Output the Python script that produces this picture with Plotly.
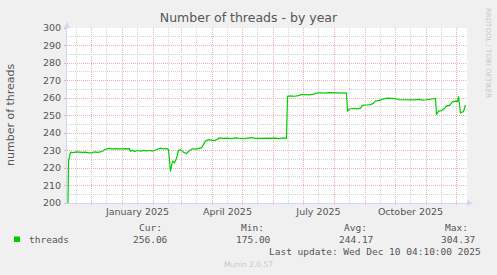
import plotly.graph_objects as go
import pandas as pd

# ---- data ----
dates = [
    "2024-11-07", "2024-11-08", "2024-11-10", "2024-11-13", "2024-11-16", "2024-11-19",
    "2024-11-22", "2024-11-25", "2024-11-28", "2024-12-01", "2024-12-04", "2024-12-07",
    "2024-12-10", "2024-12-12", "2024-12-14", "2024-12-16", "2024-12-19", "2024-12-22",
    "2024-12-25", "2024-12-28", "2024-12-31", "2025-01-03", "2025-01-06", "2025-01-08",
    "2025-01-09", "2025-01-11", "2025-01-13", "2025-01-16", "2025-01-19", "2025-01-22",
    "2025-01-25", "2025-01-28", "2025-01-31", "2025-02-03", "2025-02-05", "2025-02-08",
    "2025-02-11", "2025-02-14", "2025-02-16", "2025-02-18", "2025-02-20", "2025-02-22",
    "2025-02-24", "2025-02-26", "2025-02-28", "2025-03-03", "2025-03-06", "2025-03-09",
    "2025-03-12", "2025-03-15", "2025-03-18", "2025-03-21", "2025-03-23", "2025-03-25",
    "2025-03-28", "2025-03-31", "2025-04-03", "2025-04-06", "2025-04-08", "2025-04-12",
    "2025-04-16", "2025-04-20", "2025-04-24", "2025-04-28", "2025-05-02", "2025-05-06",
    "2025-05-10", "2025-05-14", "2025-05-18", "2025-05-22", "2025-05-26", "2025-05-30",
    "2025-06-03", "2025-06-07", "2025-06-11", "2025-06-14", "2025-06-15", "2025-06-18",
    "2025-06-22", "2025-06-26", "2025-06-29", "2025-07-03", "2025-07-07", "2025-07-11",
    "2025-07-14", "2025-07-18", "2025-07-22", "2025-07-26", "2025-07-30", "2025-08-03",
    "2025-08-07", "2025-08-11", "2025-08-13", "2025-08-14", "2025-08-16", "2025-08-20",
    "2025-08-24", "2025-08-27", "2025-08-29", "2025-09-02", "2025-09-06", "2025-09-09",
    "2025-09-11", "2025-09-15", "2025-09-19", "2025-09-23", "2025-09-27", "2025-10-01",
    "2025-10-04", "2025-10-08", "2025-10-12", "2025-10-16", "2025-10-20", "2025-10-24",
    "2025-10-28", "2025-11-01", "2025-11-05", "2025-11-09", "2025-11-10", "2025-11-11",
    "2025-11-13", "2025-11-16", "2025-11-19", "2025-11-21", "2025-11-24", "2025-11-27",
    "2025-11-30", "2025-12-02", "2025-12-03", "2025-12-05", "2025-12-08", "2025-12-10",
]
threads = [
    175, 224, 229, 228.8, 229.2, 229,
    228.9, 229.1, 228.6, 228.7, 229.2, 228.9,
    229.3, 229.4, 230.6, 231, 231.2, 230.8,
    231.1, 230.9, 231, 230.8, 231.3, 231.1,
    229.6, 230.2, 229.4, 230, 229.7, 230.1,
    229.8, 230, 229.6, 230.3, 231, 231.3,
    230.9, 231.2, 230.5, 218, 224, 223,
    225.5, 230, 230.5, 229, 228.3, 230,
    231, 230.8, 231.2, 231.5, 233.5, 235.5,
    236.2, 236, 235.6, 236.5, 237.2, 236.9,
    237.1, 236.8, 237.2, 237, 236.8, 237.1,
    237.3, 236.9, 237, 236.7, 237.2, 236.9,
    237.1, 236.8, 237.2, 237, 261, 261.2,
    261, 261.4, 261.9, 262, 261.8, 262.2,
    262.8, 263, 262.8, 263.1, 263, 263.2,
    262.9, 263.1, 262.8, 252.3, 253.7, 254,
    253.8, 254.2, 255.8, 256, 256.2, 257,
    258.3, 258.6, 259.5, 259.9, 260, 259.7,
    259.1, 259, 258.8, 259.1, 258.9, 259.2,
    258.8, 259, 259.5, 260, 259.8, 250.5,
    252.5, 252.8, 254, 255.5, 255.8, 257.8,
    258.2, 258, 261, 251.5, 252.3, 256.06,
]
series_name = "threads"
stat_labels = ["Cur:", "Min:", "Avg:", "Max:"]
stat_values = ["256.06", "175.00", "244.17", "304.37"]
quarter_labels = {"2025-01-16": "January 2025", "2025-04-16": "April 2025",
                  "2025-07-16": "July 2025", "2025-10-16": "October 2025"}
y_ticks = [200, 210, 220, 230, 240, 250, 260, 270, 280, 290, 300]

# ---- styling ----
BG = "#F0F0F0"
FONT = "#555555"
AXIS = "#CFD6F8"
MGRID = "#F0B0B0"
GRID = "#D4D4D4"
LINE = "#00CC00"
DOT = "1px,1px"

x_start, x_end = "2024-11-06 12:00", "2025-12-11 12:00"
month_starts = pd.date_range("2024-12-01", "2025-12-01", freq="MS")
mid_months = pd.date_range("2024-11-01", "2025-11-01", freq="MS") + pd.Timedelta(days=15)
mid_vals = [d.strftime("%Y-%m-%d") for d in mid_months]
mid_text = [quarter_labels.get(v, "") for v in mid_vals]

fig = go.Figure()
fig.add_trace(go.Scatter(x=pd.to_datetime(dates), y=threads, mode="lines",
                         line=dict(color=LINE, width=1.2), name=series_name,
                         hoverinfo="skip"))

fig.update_layout(
    width=497, height=275,
    margin=dict(l=67, r=30, t=28, b=72),
    paper_bgcolor=BG, plot_bgcolor="#FFFFFF",
    showlegend=False,
    font=dict(family="DejaVu Sans", size=9.5, color=FONT),
    title=dict(text="Number of threads - by year", x=0.5, xref="container",
               xanchor="center", y=1 - 18 / 275, yref="container", yanchor="middle",
               font=dict(size=12.5, color=FONT, family="DejaVu Sans")),
)

fig.update_xaxes(
    type="date", range=[x_start, x_end], fixedrange=True,
    tickmode="array", tickvals=mid_vals, ticktext=mid_text, ticks="",
    showgrid=True, gridcolor=GRID, griddash=DOT, gridwidth=1,
    showline=True, linecolor=AXIS, linewidth=1, zeroline=False,
    tickfont=dict(size=9.5, color=FONT),
)
fig.update_yaxes(
    range=[200, 300], fixedrange=True,
    tickmode="array", tickvals=y_ticks,
    ticks="outside", ticklen=2, tickcolor=MGRID,
    showgrid=True, gridcolor=MGRID, griddash=DOT, gridwidth=1,
    showline=True, linecolor=AXIS, linewidth=1, zeroline=False,
    tickfont=dict(size=9.5, color=FONT), ticklabelstandoff=1,
    minor=dict(dtick=5, tick0=200, showgrid=True, gridcolor=GRID, griddash=DOT, gridwidth=1),
)

# monthly major grid lines (red, dotted) with small ticks under the axis
for m in month_starts:
    fig.add_shape(type="line", xref="x", yref="paper", x0=m, x1=m, y0=-2 / 175, y1=1,
                  line=dict(color=MGRID, width=1, dash=DOT), layer="between")

def px_x(px):
    return (px - 67) / 400.0

def px_y(py):
    return (203 - py) / 175.0

# axis arrows
fig.add_shape(type="path", xref="paper", yref="paper",
              path=f"M {px_x(64)} {px_y(28)} L {px_x(70)} {px_y(28)} L {px_x(67)} {px_y(22)} Z",
              fillcolor=AXIS, line=dict(width=0))
fig.add_shape(type="path", xref="paper", yref="paper",
              path=f"M {px_x(467)} {px_y(200)} L {px_x(467)} {px_y(206)} L {px_x(473)} {px_y(203)} Z",
              fillcolor=AXIS, line=dict(width=0))

# y axis title
fig.add_annotation(text="number of threads", xref="paper", yref="paper",
                   x=px_x(10), y=px_y(115), textangle=-90, showarrow=False,
                   xanchor="center", yanchor="middle",
                   font=dict(size=11, color=FONT, family="DejaVu Sans"))
# watermark
fig.add_annotation(text="RRDTOOL / TOBI OETIKER", xref="paper", yref="paper",
                   x=px_x(488), y=px_y(53), textangle=90, showarrow=False,
                   xanchor="center", yanchor="middle",
                   font=dict(size=7, color="#C8C8C8", family="DejaVu Sans"))

# legend
MONO = "DejaVu Sans Mono"
fig.add_shape(type="rect", xref="paper", yref="paper",
              x0=px_x(14), x1=px_x(20), y0=px_y(242), y1=px_y(236.5),
              fillcolor=LINE, line=dict(width=0))
fig.add_annotation(text=series_name, xref="paper", yref="paper", x=px_x(26.5), y=px_y(239),
                   xanchor="left", yanchor="middle", showarrow=False,
                   font=dict(size=9.5, color=FONT, family=MONO))
label_right = [163.5, 266, 368.5, 470]
value_right = [169.5, 273, 375, 476.7]
for lab, val, lr, vr in zip(stat_labels, stat_values, label_right, value_right):
    fig.add_annotation(text=lab, xref="paper", yref="paper", x=px_x(lr), y=px_y(227.5),
                       xanchor="right", yanchor="middle", showarrow=False,
                       font=dict(size=9.5, color=FONT, family=MONO))
    fig.add_annotation(text=val, xref="paper", yref="paper", x=px_x(vr), y=px_y(239),
                       xanchor="right", yanchor="middle", showarrow=False,
                       font=dict(size=9.5, color=FONT, family=MONO))
fig.add_annotation(text="Last update: Wed Dec 10 04:10:00 2025", xref="paper", yref="paper",
                   x=px_x(482.5), y=px_y(251), xanchor="right", yanchor="middle",
                   showarrow=False, font=dict(size=9.5, color=FONT, family=MONO))
fig.add_annotation(text="Munin 2.0.57", xref="paper", yref="paper",
                   x=px_x(248), y=px_y(264.5), xanchor="center", yanchor="middle",
                   showarrow=False, font=dict(size=7.5, color="#C8C8C8", family="DejaVu Sans"))

fig.write_html("out.html")
